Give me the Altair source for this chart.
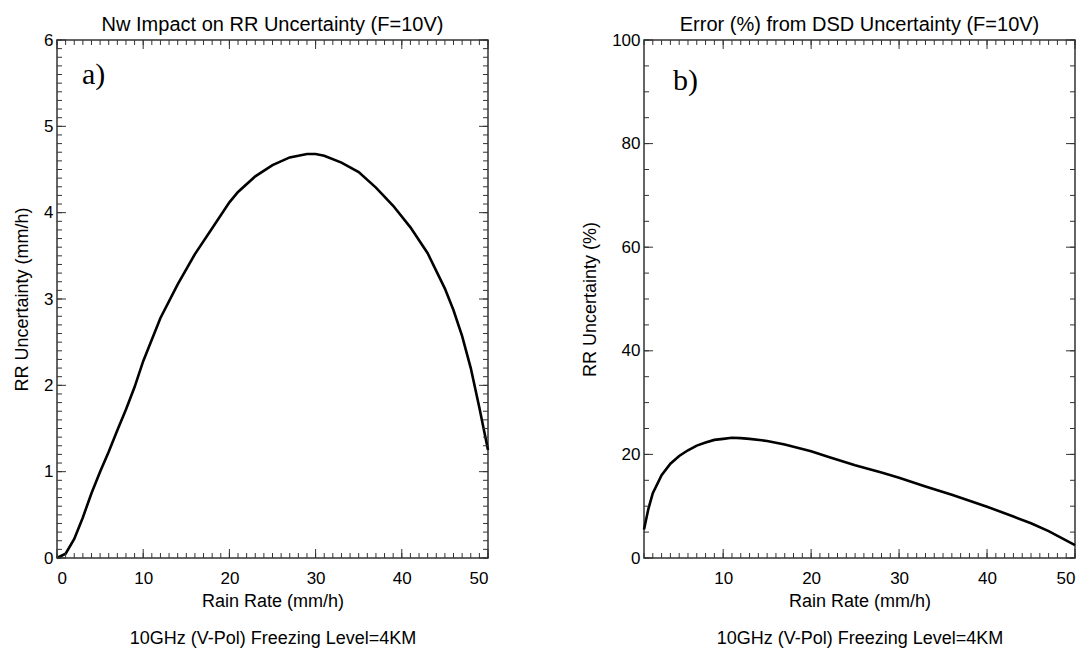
import altair as alt
import pandas as pd

# ---- Panel a) : Nw impact on RR uncertainty ----
rr_a = [0, 1, 2, 3, 4, 5, 6, 7, 8, 9, 10, 12, 14, 16, 18, 20, 21, 23, 25, 27, 29, 30, 31,
        33, 35, 37, 39, 41, 43, 45, 46, 47, 48, 49, 50]
unc_a = [0.0, 0.05, 0.22, 0.47, 0.75, 1.0, 1.23, 1.48, 1.72, 1.98, 2.28, 2.78, 3.17, 3.52,
         3.82, 4.12, 4.24, 4.42, 4.55, 4.64, 4.68, 4.68, 4.66, 4.58, 4.47, 4.29, 4.08, 3.83,
         3.53, 3.12, 2.87, 2.57, 2.2, 1.74, 1.25]

# ---- Panel b) : Error (%) from DSD uncertainty ----
rr_b = [1, 1.5, 2, 3, 4, 5, 6, 7, 8, 9, 10, 11, 12, 13, 15, 17, 20, 22, 25, 28, 30, 33, 36,
        40, 43, 45, 47, 50]
err_b = [5.5, 9.5, 12.5, 16.0, 18.2, 19.7, 20.8, 21.7, 22.3, 22.8, 23.0, 23.2, 23.15, 23.0,
         22.6, 21.9, 20.6, 19.5, 17.9, 16.5, 15.5, 13.8, 12.2, 9.9, 8.0, 6.7, 5.2, 2.5]

# ---- axis ticks / labels ----
xlab_a = [0, 10, 20, 30, 40, 50]
xlab_b = [10, 20, 30, 40, 50]
xminor_a = list(range(0, 51))
xminor_b = list(range(1, 51))
ylab_a = [0, 1, 2, 3, 4, 5, 6]
yminor_a = [i / 10 for i in range(0, 61)]
ylab_b = [0, 20, 40, 60, 80, 100]
yminor_b = list(range(0, 101, 5))

W, H = 431, 518
FRAME = "#333333"
FONT = "Liberation Sans"
SUB = "10GHz (V-Pol) Freezing Level=4KM"


def panel(xs, ys, xdom, ydom, xlab, xminor, ylab, yminor, title, ytitle, tag, tag_x, tag_y):
    sx = alt.Scale(domain=xdom, nice=False, zero=False)
    sy = alt.Scale(domain=ydom, nice=False, zero=False)
    df = pd.DataFrame({"rr": xs, "v": ys})
    line = alt.Chart(df).mark_line(color="black", strokeWidth=2.6).encode(
        x=alt.X("rr:Q", scale=sx,
                axis=alt.Axis(values=xlab, format="d", ticks=False, domain=False, grid=False,
                              labelPadding=12, titlePadding=6, titleLineHeight=37,
                              title=["Rain Rate (mm/h)", SUB])),
        y=alt.Y("v:Q", scale=sy,
                axis=alt.Axis(values=ylab, format="d", ticks=False, domain=False, grid=False,
                              labelPadding=4, titlePadding=12, title=ytitle)),
    )
    layers = [line]
    xmaj = pd.DataFrame({"rr": xlab})
    xmin = pd.DataFrame({"rr": xminor})
    ymaj = pd.DataFrame({"v": ylab})
    ymin = pd.DataFrame({"v": yminor})
    for d, L in ((xmaj, 9), (xmin, 5)):
        for y0, y1 in ((H, H - L), (0, L)):
            layers.append(alt.Chart(d).mark_rule(color=FRAME, strokeWidth=1).encode(
                x=alt.X("rr:Q", scale=sx, axis=None), y=alt.value(y0), y2=alt.value(y1)))
    for d, L in ((ymaj, 9), (ymin, 5)):
        for x0, x1 in ((0, L), (W, W - L)):
            layers.append(alt.Chart(d).mark_rule(color=FRAME, strokeWidth=1).encode(
                y=alt.Y("v:Q", scale=sy, axis=None), x=alt.value(x0), x2=alt.value(x1)))
    lab = alt.Chart(pd.DataFrame({"t": [tag]})).mark_text(
        font="Liberation Serif", fontSize=30, align="left", baseline="alphabetic", color="black"
    ).encode(x=alt.value(tag_x), y=alt.value(tag_y), text="t:N")
    layers.append(lab)
    return alt.layer(*layers).resolve_axis(x="independent", y="independent").properties(
        width=W, height=H,
        title=alt.TitleParams(title, fontSize=20, font=FONT, fontWeight="normal",
                              anchor="middle", offset=-4),
    )


left = panel(rr_a, unc_a, [0, 50], [0, 6], xlab_a, xminor_a, ylab_a, yminor_a,
             "Nw Impact on RR Uncertainty (F=10V)", "RR Uncertainty (mm/h)", "a)", 25, 44)
right = panel(rr_b, err_b, [1, 50], [0, 100], xlab_b, xminor_b, ylab_b, yminor_b,
              "Error (%) from DSD Uncertainty (F=10V)", "RR Uncertainty (%)", "b)", 29, 50)

chart = alt.hconcat(left, right, spacing=86).properties(
    padding={"left": 4, "top": 6, "right": 0, "bottom": 0}
).configure_view(stroke=FRAME, strokeWidth=1.5).configure_axis(
    labelFont=FONT, labelFontSize=17, labelColor="black",
    titleFont=FONT, titleFontSize=18, titleFontWeight="normal", titleColor="black",
)

chart.save("out.html", embed_options={"renderer": "svg", "actions": False})
